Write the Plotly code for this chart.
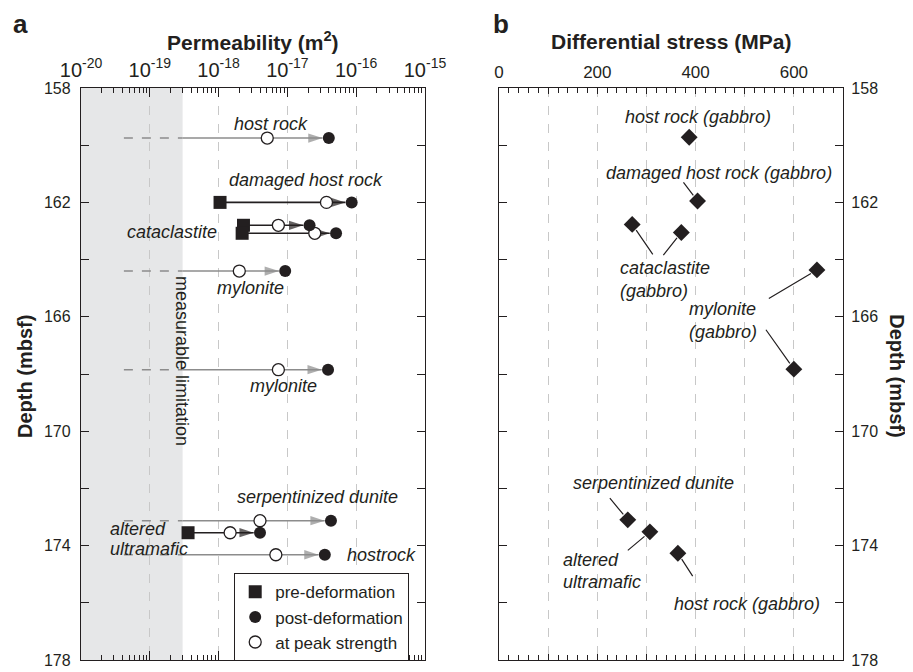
import numpy as np
import plotly.graph_objects as go

# ---------------- data ----------------
depth = [159.75, 162.0, 162.8, 163.08, 164.4, 167.85, 173.13, 173.55, 174.32]
perm_pre = [None, 1.05e-18, 2.3e-18, 2.2e-18, None, None, None, 3.6e-19, None]
perm_peak = [5.1e-18, 3.7e-17, 7.4e-18, 2.5e-17, 2.0e-18, 7.4e-18, 4.0e-18, 1.47e-18, 6.8e-18]
perm_post = [4.0e-17, 8.6e-17, 2.1e-17, 5.1e-17, 9.3e-18, 3.9e-17, 4.3e-17, 4.0e-18, 3.5e-17]
perm_floor = 4.2e-20          # start of the dashed "below limit" lines
perm_limit = 3.0e-19          # measurable limitation

stress_depth = [159.72, 161.95, 162.77, 163.05, 164.36, 167.83, 173.10, 173.52, 174.27]
stress = [387, 404, 271, 371, 647, 600, 262, 307, 364]

perm_ticks = [1e-20, 1e-19, 1e-18, 1e-17, 1e-16, 1e-15]
perm_ticktext = ["10<sup>-20</sup>", "10<sup>-19</sup>", "10<sup>-18</sup>",
                 "10<sup>-17</sup>", "10<sup>-16</sup>", "10<sup>-15</sup>"]
depth_ticks = list(range(158, 179, 2))
depth_ticktext = [str(d) if (d - 158) % 4 == 0 else "" for d in depth_ticks]
stress_ticks = list(range(0, 701, 100))
stress_ticktext = [str(s) if s % 200 == 0 else "" for s in stress_ticks]

# labels panel a: (text, log10 x, depth, anchor)
labels_a = [
    ("host rock", -17.24, 159.26, "center"),
    ("damaged host rock", -16.73, 161.22, "center"),
    ("cataclastite", -18.0, 163.05, "right"),
    ("mylonite", -17.54, 164.99, "center"),
    ("mylonite", -17.06, 168.42, "center"),
    ("serpentinized dunite", -16.56, 172.3, "center"),
    ("altered", -19.61, 173.43, "left"),
    ("ultramafic", -19.61, 174.12, "left"),
    ("hostrock", -16.16, 174.33, "left"),
]
# labels panel b: (text, x, depth, anchor)
labels_b = [
    ("host rock (gabbro)", 405, 159.0, "center"),
    ("damaged host rock (gabbro)", 447, 160.96, "center"),
    ("cataclastite", 243, 164.3, "left"),
    ("(gabbro)", 243, 165.09, "left"),
    ("mylonite", 455, 165.73, "center"),
    ("(gabbro)", 455, 166.52, "center"),
    ("serpentinized dunite", 314, 171.82, "center"),
    ("altered", 126, 174.5, "left"),
    ("ultramafic", 126, 175.26, "left"),
    ("host rock (gabbro)", 505, 176.04, "center"),
]
# leader lines panel b: (index of diamond, label-end x, label-end depth)
leaders_b = [
    (1, 373, 161.25),
    (2, 315, 163.87),
    (3, 332, 163.9),
    (4, 546, 165.39),
    (5, 541, 166.4),
    (6, 223, 172.29),
    (7, 259, 174.21),
    (8, 396, 175.12),
]

# ---------------- style ----------------
BLACK = "#231f20"
GRAY = "#8c8c8c"
FONT = "Liberation Sans, Arial, Helvetica, sans-serif"
PAGE_OFFSET = 8   # default page margin around the plot div
W, H = 913 - PAGE_OFFSET, 672 - PAGE_OFFSET
ML, MT = 81 - PAGE_OFFSET, 88 - PAGE_OFFSET
PLOT_W, PLOT_H = 762, 572
MR, MB = W - ML - PLOT_W, H - MT - PLOT_H
dom_a = [0.0, 0.4514]
dom_b = [0.5486, 1.0]
decade_px = PLOT_W * (dom_a[1] - dom_a[0]) / 5.0
circle_size = 12
tip_shift = 10 ** (-(circle_size / 2 + 0.3) / decade_px)

fig = go.Figure()

# shaded region (measurable limitation)
fig.add_shape(type="rect", xref="x domain", yref="y domain",
              x0=0, x1=(np.log10(perm_limit) + 20) / 5.0, y0=0, y1=1,
              fillcolor="#e6e7e8", line_width=0, layer="below")

# lines panel a
for d, pre, post in zip(depth, perm_pre, perm_post):
    if pre is None:
        fig.add_trace(go.Scatter(x=[perm_floor, perm_limit], y=[d, d], mode="lines",
                                 line=dict(color=GRAY, width=1.6, dash="dash"),
                                 showlegend=False, hoverinfo="skip", xaxis="x", yaxis="y"))
        fig.add_trace(go.Scatter(x=[perm_limit, post * tip_shift], y=[d, d], mode="lines+markers",
                                 line=dict(color=GRAY, width=1.6),
                                 marker=dict(symbol=["circle", "arrow"], size=[0, 15],
                                             angle=90, color=GRAY, line_width=0),
                                 showlegend=False, hoverinfo="skip", xaxis="x", yaxis="y"))
    else:
        fig.add_trace(go.Scatter(x=[pre, post * tip_shift], y=[d, d], mode="lines+markers",
                                 line=dict(color=BLACK, width=1.6),
                                 marker=dict(symbol=["circle", "arrow"], size=[0, 15],
                                             angle=90, color=BLACK, line_width=0),
                                 showlegend=False, hoverinfo="skip", xaxis="x", yaxis="y"))

pre_x = [p for p in perm_pre if p is not None]
pre_y = [d for d, p in zip(depth, perm_pre) if p is not None]
fig.add_trace(go.Scatter(x=pre_x, y=pre_y, mode="markers", name="pre-deformation",
                         marker=dict(symbol="square", size=13, color=BLACK),
                         legendrank=1, xaxis="x", yaxis="y"))
fig.add_trace(go.Scatter(x=perm_peak, y=depth, mode="markers", name="at peak strength",
                         marker=dict(symbol="circle", size=circle_size, color="white",
                                     line=dict(color=BLACK, width=1.3)),
                         legendrank=3, xaxis="x", yaxis="y"))
fig.add_trace(go.Scatter(x=perm_post, y=depth, mode="markers", name="post-deformation",
                         marker=dict(symbol="circle", size=circle_size, color=BLACK),
                         legendrank=2, xaxis="x", yaxis="y"))

# panel b diamonds
fig.add_trace(go.Scatter(x=stress, y=stress_depth, mode="markers",
                         marker=dict(symbol="diamond", size=13, color=BLACK),
                         showlegend=False, xaxis="x2", yaxis="y2"))

annotations = []
for txt, xl, yd, anc in labels_a:
    annotations.append(dict(text="<i>" + txt + "</i>", x=xl, y=yd, xref="x", yref="y",
                            xanchor=anc, yanchor="middle", showarrow=False,
                            font=dict(size=18, color=BLACK, family=FONT)))
for txt, xv, yd, anc in labels_b:
    annotations.append(dict(text="<i>" + txt + "</i>", x=xv, y=yd, xref="x2", yref="y2",
                            xanchor=anc, yanchor="middle", showarrow=False,
                            font=dict(size=18, color=BLACK, family=FONT)))
for i, lx, ly in leaders_b:
    annotations.append(dict(text="", x=stress[i], y=stress_depth[i], xref="x2", yref="y2",
                            ax=lx, ay=ly, axref="x2", ayref="y2", showarrow=True,
                            arrowhead=0, arrowwidth=1.2, arrowcolor=BLACK, standoff=7))

# measurable limitation
annotations.append(dict(text="measurable limitation", x=np.log10(perm_limit), y=167.53,
                        xref="x", yref="y", xanchor="center", yanchor="middle", xshift=0,
                        textangle=90, showarrow=False,
                        font=dict(size=18, color=BLACK, family=FONT)))

# titles & panel letters
annotations += [
    dict(text="<b>Permeability (m<sup>2</sup>)</b>", x=(dom_a[0] + dom_a[1]) / 2, y=1.082,
         xref="paper", yref="paper", showarrow=False, xanchor="center", yanchor="middle",
         font=dict(size=21, color=BLACK, family=FONT)),
    dict(text="<b>Differential stress (MPa)</b>", x=(dom_b[0] + dom_b[1]) / 2, y=1.082,
         xref="paper", yref="paper", showarrow=False, xanchor="center", yanchor="middle",
         font=dict(size=21, color=BLACK, family=FONT)),
    dict(text="<b>a</b>", x=-0.080, y=1.1118, xref="paper", yref="paper", showarrow=False,
         xanchor="center", yanchor="middle", font=dict(size=26, color=BLACK, family=FONT)),
    dict(text="<b>b</b>", x=0.551, y=1.1118, xref="paper", yref="paper", showarrow=False,
         xanchor="center", yanchor="middle", font=dict(size=26, color=BLACK, family=FONT)),
    dict(text="<b>Depth (mbsf)</b>", x=-0.0735, y=0.4965, xref="paper", yref="paper",
         showarrow=False, xanchor="center", yanchor="middle", textangle=-90,
         font=dict(size=20, color=BLACK, family=FONT)),
    dict(text="<b>Depth (mbsf)</b>", x=1.0705, y=0.4965, xref="paper", yref="paper",
         showarrow=False, xanchor="center", yanchor="middle", textangle=90,
         font=dict(size=20, color=BLACK, family=FONT)),
]

minor_perm = [k * 10.0 ** e for e in range(-20, -15) for k in range(2, 10)]

axis_common = dict(showline=True, linecolor=BLACK, linewidth=1.3, mirror="ticks",
                   ticks="inside", tickcolor=BLACK, tickwidth=1.2, zeroline=False,
                   automargin=False)

fig.update_layout(
    width=W, height=H, plot_bgcolor="white", paper_bgcolor="white",
    margin=dict(l=ML, r=MR, t=MT, b=MB, autoexpand=False),
    font=dict(family=FONT, color=BLACK),
    xaxis=dict(domain=dom_a, anchor="y", type="log", range=[-20, -15], side="top",
               tickmode="array", tickvals=perm_ticks, ticktext=perm_ticktext, ticklen=9,
               tickfont=dict(size=20, color=BLACK, family=FONT),
               showgrid=True, gridcolor="#c8c8c8", griddash="dash", gridwidth=1.3,
               minor=dict(tickmode="array", tickvals=minor_perm, ticks="inside", ticklen=5,
                          tickcolor=BLACK, showgrid=False),
               ticklabelstandoff=2, **axis_common),
    yaxis=dict(domain=[0, 1], anchor="x", range=[178, 158], tickmode="array",
               tickvals=depth_ticks, ticktext=depth_ticktext, ticklen=8, showgrid=False,
               tickfont=dict(size=16, color=BLACK, family=FONT),
               ticklabelstandoff=6, **axis_common),
    xaxis2=dict(domain=dom_b, anchor="y2", range=[0, 700], side="top", tickmode="array",
                tickvals=stress_ticks, ticktext=stress_ticktext, ticklen=6,
                tickfont=dict(size=17, color=BLACK, family=FONT),
                showgrid=True, gridcolor="#c8c8c8", griddash="dash", gridwidth=1.3,
                minor=dict(dtick=20, ticks="inside", ticklen=5, tickcolor=BLACK, showgrid=False),
                ticklabelstandoff=2, **axis_common),
    yaxis2=dict(domain=[0, 1], anchor="x2", side="right", range=[178, 158], tickmode="array",
                tickvals=depth_ticks, ticktext=depth_ticktext, ticklen=8, showgrid=False,
                tickfont=dict(size=16, color=BLACK, family=FONT),
                ticklabelstandoff=4, **axis_common),
    legend=dict(x=0.2008, y=0.152, xanchor="left", yanchor="top", bgcolor="white",
                bordercolor=BLACK, borderwidth=1.2, font=dict(size=17, color=BLACK, family=FONT),
                itemwidth=30, tracegroupgap=0),
    annotations=annotations,
    showlegend=True,
)

fig.write_html("out.html")
